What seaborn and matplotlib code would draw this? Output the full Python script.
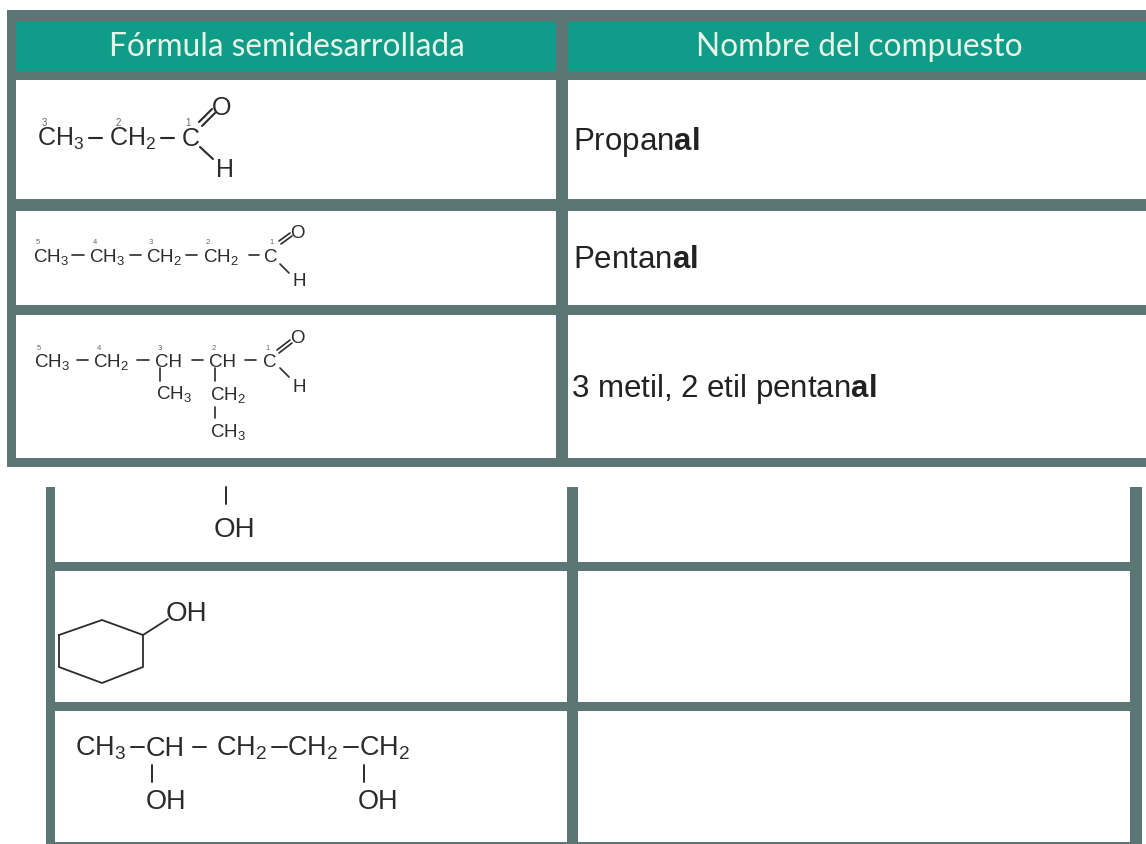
import pandas as pd
import numpy as np
import seaborn as sns
import matplotlib.pyplot as plt
from matplotlib.colors import ListedColormap

# table text
headers = ["Fórmula semidesarrollada", "Nombre del compuesto"]
names = ["Propan$\\mathbf{al}$", "Pentan$\\mathbf{al}$", "3 metil, 2 etil pentan$\\mathbf{al}$"]

ch3 = "CH$_3$"
ch2 = "CH$_2$"

row1_labels = [ch3, ch2, "C", "O", "H"]
row1_numbers = ["3", "2", "1"]
row2_labels = [ch3, ch3, ch2, ch2, "C", "O", "H"]
row2_numbers = ["5", "4", "3", "2", "1"]
row3_labels = [ch3, ch2, "CH", "CH", "C", "O", "H", ch3, ch2, ch3]
row3_numbers = ["5", "4", "3", "2", "1"]
row4_labels = ["OH"]
row5_labels = ["OH"]
row6_labels = [ch3, "CH", ch2, ch2, ch2, "OH", "OH"]

# table grids, 0 frame, 1 header, 2 empty cell
top_x = [6.6, 16, 556, 568, 1146]
top_y = [10, 22, 71, 80, 199, 211, 305, 315, 458, 467]
top_cells = [[0, 0, 0, 0],
             [0, 1, 0, 1],
             [0, 0, 0, 0],
             [0, 2, 0, 2],
             [0, 0, 0, 0],
             [0, 2, 0, 2],
             [0, 0, 0, 0],
             [0, 2, 0, 2],
             [0, 0, 0, 0]]
bottom_x = [46, 55, 566.5, 578, 1130, 1142]
bottom_y = [487, 561.5, 571, 702, 711, 842, 844]
bottom_cells = [[0, 2, 0, 2, 0],
                [0, 0, 0, 0, 0],
                [0, 2, 0, 2, 0],
                [0, 0, 0, 0, 0],
                [0, 2, 0, 2, 0],
                [0, 0, 0, 0, 0]]

# bonds of each formula, as x0, y0, x1, y1
bonds_row1 = [(89, 138, 102, 138), (161, 138, 174, 138),
              (199, 122, 212, 109), (202, 126, 215, 113),
              (200, 147, 213, 159)]
bonds_row2 = [(72, 255, 84, 255), (130, 255, 141, 255), (186, 255, 197, 255), (249, 255, 259, 255),
              (279, 241, 290, 233), (281, 244, 292, 236),
              (280, 264, 289, 273)]
bonds_row3 = [(77, 360, 88, 360), (137, 360, 149, 360), (192, 360, 203, 360), (245, 360, 256, 360),
              (277, 350, 290, 340), (279, 353, 292, 343),
              (280, 368, 289, 377),
              (160, 368, 160, 381), (214.5, 368, 214.5, 381), (214.5, 407, 214.5, 418)]
bonds_row4 = [(226, 487, 226, 504)]
bonds_row6 = [(131, 747, 144, 747), (193, 747, 206, 747), (272, 747, 287, 747), (344, 747, 358, 747),
              (152, 765, 152, 782), (364, 765, 364, 782)]
ring_x = [59, 102, 143, 143, 102, 59, 59]
ring_y = [635, 620, 635, 667, 683, 667, 635]
oh_bond = (143, 635, 168, 619)

frame_color = "#5c7575"
header_color = "#0f9c88"
header_text = "#e6f5e6"
ink = "#2b2b2b"

sns.set_theme(style="white")
plt.rcParams['font.family'] = ['Liberation Sans', 'DejaVu Sans']
plt.rcParams['mathtext.fontset'] = 'custom'
plt.rcParams['mathtext.rm'] = 'Liberation Sans'
plt.rcParams['mathtext.bf'] = 'Liberation Sans:bold'
plt.rcParams['mathtext.default'] = 'rm'

fig, ax = plt.subplots(figsize=(11.46, 8.44), dpi=100)
ax.set_position([0, 0, 1, 1])

cmap = ListedColormap([frame_color, header_color, "white"])
ax.pcolormesh(top_x, top_y, np.array(top_cells), cmap=cmap, vmin=0, vmax=2)
ax.pcolormesh(bottom_x, bottom_y, np.array(bottom_cells), cmap=cmap, vmin=0, vmax=2)


def draw_bonds(segments, width):
    rows = []
    for i, (x0, y0, x1, y1) in enumerate(segments):
        rows.append({"x": x0, "y": y0, "bond": i})
        rows.append({"x": x1, "y": y1, "bond": i})
    sns.lineplot(data=pd.DataFrame(rows), x="x", y="y", units="bond", estimator=None,
                 sort=False, color=ink, linewidth=width, legend=False, ax=ax)


def draw_labels(labels, xs, ys, size, color=ink):
    for label, x, y in zip(labels, xs, ys):
        ax.text(x, y, label, fontsize=size, color=color, ha="left", va="baseline")


draw_bonds(bonds_row1, 1.5)
draw_bonds(bonds_row2, 1.2)
draw_bonds(bonds_row3, 1.2)
draw_bonds(bonds_row4, 1.4)
draw_bonds(bonds_row6, 1.4)
draw_bonds([oh_bond], 1.3)
sns.lineplot(x=ring_x, y=ring_y, sort=False, estimator=None, color=ink, linewidth=1.3, ax=ax)

# headers
ax.text(287, 56, headers[0], fontsize=22.8, family="Lato", color=header_text, ha="center", va="baseline")
ax.text(859, 56, headers[1], fontsize=22.8, family="Lato", color=header_text, ha="center", va="baseline")

# compound names
draw_labels(names, [573, 573, 571], [150, 268, 397], 22.5, color="#222222")

# formula rows
draw_labels(row1_labels, [37, 109, 182, 212, 216], [146, 146, 146, 115, 177], 18)
draw_labels(row1_numbers, [42, 116, 185], [126, 126, 126], 7, color="#666666")
draw_labels(row2_labels, [33, 89, 146, 203, 264, 290, 292], [262, 262, 262, 262, 262, 238, 286], 13.5)
draw_labels(row2_numbers, [36, 93, 149, 206, 269], [244, 244, 244, 244, 244], 5.5, color="#666666")
draw_labels(row3_labels, [34, 93, 155, 209, 263, 290, 292, 156, 210, 210],
            [367, 367, 367, 367, 367, 343, 392, 399, 400, 437], 13.5)
draw_labels(row3_numbers, [37, 97, 158, 212, 265], [350, 350, 350, 350, 350], 5.5, color="#666666")
draw_labels(row4_labels, [214], [537], 20)
draw_labels(row5_labels, [166], [621], 20)
draw_labels(row6_labels, [75, 146, 216, 287, 359, 146, 358],
            [756, 756, 756, 756, 756, 809, 809], 19.5)

ax.set_xlim(0, 1146)
ax.set_ylim(844, 0)
ax.axis("off")
fig.savefig("out.png", dpi=100, facecolor="white")
